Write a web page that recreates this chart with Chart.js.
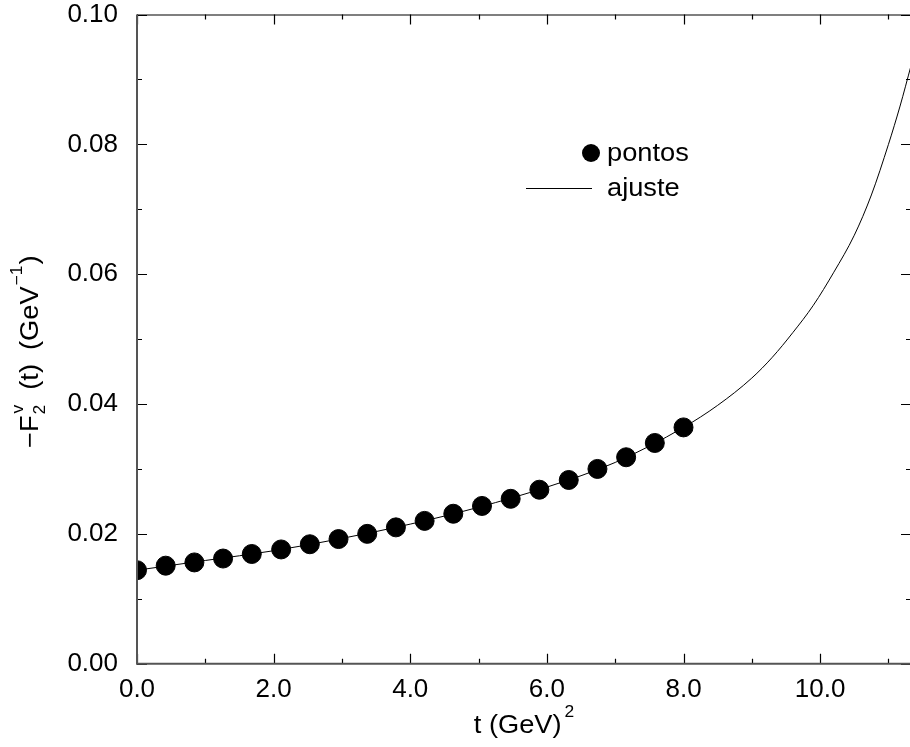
<!DOCTYPE html>
<html>
<head>
<meta charset="utf-8">
<script src="https://cdn.jsdelivr.net/npm/chart.js@4"></script>
<style>
  html, body { margin: 0; padding: 0; background: #fff; overflow: hidden; }
  canvas { display: block; }
</style>
</head>
<body>
<canvas id="chart" width="912" height="747"></canvas>
<script>
// data
const ptT = [0, 0.42, 0.84, 1.26, 1.68, 2.11, 2.53, 2.95, 3.37, 3.79, 4.21, 4.63, 5.05, 5.47, 5.89, 6.32, 6.74, 7.16, 7.58, 8.0];
const ptV = [0.0144, 0.0151, 0.0156, 0.0162, 0.0169, 0.0176, 0.0184, 0.0192, 0.0200, 0.0210, 0.0220, 0.0231, 0.0243, 0.0254, 0.0268, 0.0283, 0.0300, 0.0318, 0.0340, 0.0364];
const fitT = [0, 1, 2, 3, 4, 5, 6, 7, 8, 8.5, 9, 9.3, 9.6, 9.9, 10.2, 10.5, 10.75, 11.0, 11.17, 11.33];
const fitV = [0.0144, 0.0159, 0.0174, 0.0193, 0.0215, 0.0241, 0.0272, 0.0310, 0.0364, 0.0398, 0.0440, 0.0472, 0.0510, 0.0552, 0.0603, 0.0660, 0.0722, 0.0800, 0.0859, 0.0921];
const xMajor = [0, 2, 4, 6, 8, 10];
const xMinor = [1, 3, 5, 7, 9, 11];
const yMajor = [0, 0.02, 0.04, 0.06, 0.08, 0.10];
const yMinor = [0.01, 0.03, 0.05, 0.07, 0.09];

const FONT = '"Liberation Sans", Arial, Helvetica, sans-serif';
const STRETCH = 1.09; // reference glyphs are a little wider than Liberation Sans

// frame + inward ticks on all four sides
const framePlugin = {
  id: 'frame',
  afterDatasetsDraw(chart) {
    const { ctx, chartArea: a, scales: { x, y } } = chart;
    ctx.save();
    ctx.strokeStyle = '#000';
    ctx.lineWidth = 1.2;
    ctx.beginPath();
    xMajor.forEach(v => {
      const px = Math.round(x.getPixelForValue(v)) + 0.5;
      ctx.moveTo(px, a.bottom); ctx.lineTo(px, a.bottom - 10);
      ctx.moveTo(px, a.top); ctx.lineTo(px, a.top + 10);
    });
    xMinor.forEach(v => {
      const px = Math.round(x.getPixelForValue(v)) + 0.5;
      ctx.moveTo(px, a.bottom); ctx.lineTo(px, a.bottom - 5);
      ctx.moveTo(px, a.top); ctx.lineTo(px, a.top + 5);
    });
    yMajor.forEach(v => {
      const py = Math.round(y.getPixelForValue(v)) + 0.5;
      ctx.moveTo(a.left, py); ctx.lineTo(a.left + 10, py);
      ctx.moveTo(a.right, py); ctx.lineTo(a.right - 10, py);
    });
    yMinor.forEach(v => {
      const py = Math.round(y.getPixelForValue(v)) + 0.5;
      ctx.moveTo(a.left, py); ctx.lineTo(a.left + 5, py);
      ctx.moveTo(a.right, py); ctx.lineTo(a.right - 5, py);
    });
    ctx.stroke();

    ctx.beginPath();
    ctx.moveTo(a.left, a.top + 0.5); ctx.lineTo(a.right, a.top + 0.5);
    ctx.stroke();
    ctx.strokeStyle = '#555';
    ctx.lineWidth = 2;
    ctx.beginPath();
    ctx.moveTo(a.left, a.top); ctx.lineTo(a.left, a.bottom); ctx.lineTo(a.right, a.bottom);
    ctx.stroke();
    ctx.restore();
  }
};

function stretchedText(ctx, txt, x, y) {
  ctx.save();
  ctx.translate(x, y);
  ctx.scale(STRETCH, 1);
  ctx.fillText(txt, 0, 0);
  ctx.restore();
  return ctx.measureText(txt).width * STRETCH;
}

// axis titles and legend
const textPlugin = {
  id: 'texts',
  afterDraw(chart) {
    const { ctx, chartArea: a } = chart;
    ctx.save();
    ctx.fillStyle = '#000';
    ctx.textBaseline = 'alphabetic';
    ctx.textAlign = 'left';

    // x title: t (GeV)^2
    ctx.font = '25px ' + FONT;
    const main = 't (GeV)';
    const wMain = ctx.measureText(main).width * STRETCH;
    ctx.font = '16px ' + FONT;
    const wSup = ctx.measureText('2').width * STRETCH;
    const cx = (a.left + a.right) / 2;
    const x0 = cx - (wMain + wSup + 3) / 2;
    ctx.font = '25px ' + FONT;
    stretchedText(ctx, main, x0, 733);
    ctx.font = '16px ' + FONT;
    stretchedText(ctx, '2', x0 + wMain + 3, 717);

    // y title: -F_2^v (t)  (GeV^-1), reading upward
    ctx.translate(38, 448);
    ctx.rotate(-Math.PI / 2);
    let s = 0;
    ctx.font = '25px ' + FONT;
    s += stretchedText(ctx, '\u2212F', s, 0) + 1;
    ctx.font = '16px ' + FONT;
    const wSub = stretchedText(ctx, '2', s, 7);
    stretchedText(ctx, 'v', s + 1, -15);
    s += wSub + 15;
    ctx.font = '25px ' + FONT;
    s += stretchedText(ctx, '(t)', s, 0) + 14;
    s += stretchedText(ctx, '(GeV', s, 0) + 1;
    ctx.font = '16px ' + FONT;
    s += stretchedText(ctx, '\u22121', s, -16) + 1;
    ctx.font = '25px ' + FONT;
    stretchedText(ctx, ')', s, 0);
    ctx.setTransform(1, 0, 0, 1, 0, 0);

    // legend
    ctx.beginPath();
    ctx.arc(591, 153, 9, 0, Math.PI * 2);
    ctx.fill();
    ctx.strokeStyle = '#000';
    ctx.lineWidth = 1;
    ctx.beginPath();
    ctx.moveTo(526, 188.5); ctx.lineTo(592, 188.5);
    ctx.stroke();
    ctx.font = '25px ' + FONT;
    ctx.textBaseline = 'middle';
    stretchedText(ctx, 'pontos', 607, 154);
    stretchedText(ctx, 'ajuste', 607, 189);
    ctx.restore();
  }
};

function noPad(s) {
  s.paddingTop = 0; s.paddingBottom = 0;
  s.paddingLeft = 0; s.paddingRight = 0;
}

new Chart(document.getElementById('chart'), {
  type: 'scatter',
  data: {
    datasets: [
      {
        label: 'pontos',
        data: ptT.map((t, i) => ({ x: t, y: ptV[i] })),
        backgroundColor: '#000',
        borderColor: '#000',
        pointRadius: 9.5,
        pointHoverRadius: 9.5,
        showLine: false,
        order: 1
      },
      {
        label: 'ajuste',
        data: fitT.map((t, i) => ({ x: t, y: fitV[i] })),
        borderColor: '#000',
        borderWidth: 1,
        pointRadius: 0,
        showLine: true,
        cubicInterpolationMode: 'monotone',
        order: 2
      }
    ]
  },
  options: {
    responsive: false,
    animation: false,
    events: [],
    layout: { autoPadding: false, padding: { left: 0, right: 1, top: 14.5, bottom: 0 } },
    plugins: { legend: { display: false }, tooltip: { enabled: false } },
    scales: {
      x: {
        type: 'linear',
        min: 0, max: 11.33,
        grid: { display: false, drawTicks: false },
        border: { display: false },
        ticks: {
          stepSize: 2, includeBounds: false, padding: 11,
          color: '#000', font: { size: 26, family: FONT },
          maxRotation: 0, autoSkip: false,
          callback: v => v.toFixed(1)
        },
        afterFit: s => { s.height = 83.3; noPad(s); }
      },
      y: {
        type: 'linear',
        min: 0, max: 0.1,
        grid: { display: false, drawTicks: false },
        border: { display: false },
        ticks: {
          stepSize: 0.02, padding: 19,
          color: '#000', font: { size: 26, family: FONT },
          callback: v => v.toFixed(2)
        },
        afterFit: s => { s.width = 137; noPad(s); }
      }
    }
  },
  plugins: [framePlugin, textPlugin]
});
</script>
</body>
</html>
